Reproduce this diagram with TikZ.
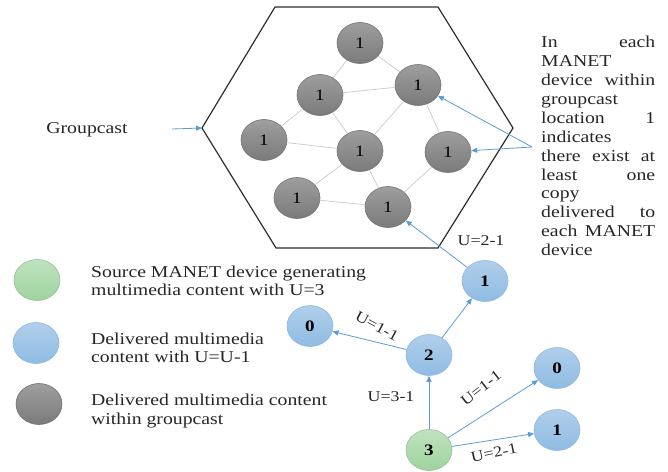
\documentclass[tikz,border=0pt]{standalone}
\usepackage{fontspec}
\setmainfont{Liberation Serif}[FakeStretch=1.19]
\usetikzlibrary{shapes.geometric,arrows.meta}

\definecolor{arrowblue}{HTML}{5B9BD5}
\definecolor{meshgray}{HTML}{CFCFCF}
\definecolor{hexline}{HTML}{2E2E2E}

\tikzset{
  dev/.style={ellipse, minimum width=46pt, minimum height=41pt, inner sep=0pt,
    line width=0.6pt, font=\fontsize{16}{18}\selectfont},
  grpnode/.style={dev, draw=black!55, top color=black!38, bottom color=black!52},
  bluenode/.style={dev, draw=arrowblue!70, top color=arrowblue!48, bottom color=arrowblue!68,
    font=\fontsize{16}{18}\selectfont\bfseries},
  srcnode/.style={dev, draw=green!35!black!40!white, top color=green!55!black!25!white,
    bottom color=green!55!black!38!white, font=\fontsize{16}{18}\selectfont\bfseries},
  mesh/.style={meshgray, line width=0.8pt},
  flow/.style={arrowblue, line width=0.8pt, -{Triangle[length=6pt,width=5pt]}},
  txt/.style={inner sep=0pt, font=\fontsize{16.6}{18.5}\selectfont, text=black!85},
  ulabel/.style={inner sep=0pt, font=\fontsize{15}{17}\selectfont, text=black!85}
}

\begin{document}
\begin{tikzpicture}[x=1pt, y=-1pt]
\useasboundingbox (0,0) rectangle (668,471);

% groupcast region
\coordinate (hl) at (202,128);
\coordinate (hr) at (513,128);
\draw[hexline, line width=1.2pt] (275,7) -- (438,7) -- (hr) -- (438,248) -- (276,248) -- (hl) -- cycle;

% devices inside the groupcast
\node[grpnode] (a) at (360,43) {1};
\node[grpnode] (b) at (320,95) {1};
\node[grpnode] (c) at (418,85) {1};
\node[grpnode] (d) at (264,140) {1};
\node[grpnode] (e) at (360,151) {1};
\node[grpnode] (f) at (448,152) {1};
\node[grpnode] (g) at (297,198) {1};
\node[grpnode] (h) at (388,207) {1};

\draw[mesh] (a) -- (b);
\draw[mesh] (a) -- (c);
\draw[mesh] (b) -- (c);
\draw[mesh] (b) -- (d);
\draw[mesh] (b) -- (e);
\draw[mesh] (c) -- (e);
\draw[mesh] (c) -- (f);
\draw[mesh] (d) -- (e);
\draw[mesh] (e) -- (g);
\draw[mesh] (e) -- (h);
\draw[mesh] (g) -- (h);
\draw[mesh] (f) -- (h);

% groupcast label
\node[txt] (gl) at (87,130) {Groupcast};
\coordinate (gs) at (172,129);
\draw[flow] (gs) -- (hl);

% explanatory note
\node[txt, anchor=north west, text width=114pt, align=left, font=\fontsize{16.6}{18.9}\selectfont] (note) at (541,36)
 {In\hfill each\\
  MANET\\
  device\hfill within\\
  groupcast\\
  location\hfill 1\\
  indicates\\
  there\hfill exist\hfill at\\
  least\hfill one\\
  copy\\
  delivered\hfill to\\
  each\hfill MANET\\
  device};
\coordinate (ns) at (532,147);
\draw[flow] (ns) -- (c);
\draw[flow] (ns) -- (f);

% propagation tree
\node[bluenode] (t1) at (485,281) {1};
\node[bluenode] (l0) at (310,326) {0};
\node[bluenode] (n2) at (429,355) {2};
\node[bluenode] (r0) at (557,368) {0};
\node[bluenode] (r1) at (557,430) {1};
\node[srcnode] (s3) at (429,450) {3};

\draw[flow] (s3) -- (n2);
\draw[flow] (n2) -- (l0);
\draw[flow] (n2) -- (t1);
\draw[flow] (t1) -- (h);
\draw[flow] (s3) -- (r0);
\draw[flow] (s3) -- (r1);

\node[ulabel] (u1) at (481,241) {U=2-1};
\node[ulabel, rotate=-28] (u2) at (377,326) {U=1-1};
\node[ulabel] (u3) at (391,397) {U=3-1};
\node[ulabel, rotate=38] (u4) at (481,388) {U=1-1};
\node[ulabel, rotate=12] (u5) at (494,453) {U=2-1};

% legend
\node[srcnode] (k1) at (37,280) {};
\node[bluenode] (k2) at (36,343) {};
\node[grpnode] (k3) at (39,404) {};
\node[txt, anchor=west, align=left] (k1t) at (91,281) {Source MANET device generating\\ multimedia content with U=3};
\node[txt, anchor=west, align=left] (k2t) at (91,348) {Delivered multimedia\\ content with U=U-1};
\node[txt, anchor=west, align=left] (k3t) at (91,411) {Delivered multimedia content\\ within groupcast};
\end{tikzpicture}
\end{document}
